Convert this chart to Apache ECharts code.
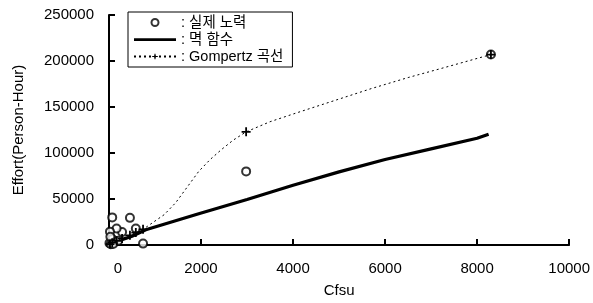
<!DOCTYPE html>
<html><head><meta charset="utf-8">
<script src="https://cdn.jsdelivr.net/npm/echarts@6/dist/echarts.min.js"></script>
<style>html,body{margin:0;padding:0;background:#fff}#c{width:593px;height:303px}</style>
</head><body><div id="c"></div>
<script>
// Actual effort (실제 노력)
const actualX = [8300, 2980, 740, 455, 583, 284, 165, 70, 21, 70, 10, 40, 120, 200, 30, 90];
const actualY = [207000, 80000, 1500, 29500, 18000, 14000, 18000, 30000, 14500, 6500, 2000, 800, 3000, 4500, 9000, 1200];
// Power function (멱 함수)
const powerX = [20, 200, 500, 800, 1950, 3000, 4000, 5000, 6000, 7000, 8000, 8250];
const powerY = [1000, 4500, 9500, 16500, 34000, 49500, 65000, 79500, 93000, 104500, 116000, 120500];
// Gompertz curve (Gompertz 곡선): marker points and curve points
const gompMarkX = [21, 70, 165, 284, 455, 583, 740, 2980, 8300];
const gompMarkY = [1000, 2500, 4500, 7000, 10500, 13500, 17000, 123000, 207000];
const gompCurveX = [912, 1200, 1450, 1700, 1950, 2200, 2450, 2700, 3500, 4100, 4900, 5700, 6500, 7300];
const gompCurveY = [23000, 33000, 46000, 63000, 80000, 93000, 104000, 114000, 134000, 144000, 157000, 170000, 182000, 193000];
const xTicks = [0, 2000, 4000, 6000, 8000, 10000];
const yTicks = [0, 50000, 100000, 150000, 200000, 250000];
const names = [': 실제 노력', ': 멱 함수', ': Gompertz 곡선'];

const FONT = "'Liberation Sans', 'Noto Sans CJK KR', Arial, sans-serif";
const FS = 15;
const plus = 'path://M4,0h2v4h4v2h-4v4h-2v-4h-4v-2h4z';
const barIcon = 'path://M0,0L0,0M42,7L42,7M0,2.2h42v2.8h-42z';

const gomp = gompMarkX.map((x, i) => ({ value: [x, gompMarkY[i]] }))
  .concat(gompCurveX.map((x, i) => ({ value: [x, gompCurveY[i]], symbol: 'none' })))
  .sort((a, b) => a.value[0] - b.value[0]);

const chart = echarts.init(document.getElementById('c'), null, { renderer: 'canvas' });
chart.setOption({
  animation: false,
  textStyle: { fontFamily: FONT, color: '#000' },
  grid: { left: 109, right: 16, top: 15, bottom: 56.5 },
  legend: {
    orient: 'vertical', left: 128, top: 12,
    borderColor: '#000', borderWidth: 1, borderRadius: 0,
    padding: [3, 9, 3, 5], itemGap: 2,
    itemWidth: 42, itemHeight: 7,
    textStyle: { fontFamily: FONT, fontSize: 14.5, color: '#000', lineHeight: 15 },
    data: [names[0], { name: names[1], icon: barIcon }, names[2]]
  },
  xAxis: {
    type: 'value', min: 0, max: 10000, interval: 2000,
    name: 'Cfsu', nameLocation: 'middle', nameGap: 38,
    nameTextStyle: { fontFamily: FONT, fontSize: FS, color: '#000' },
    axisLine: { lineStyle: { color: '#000', width: 2 } },
    axisTick: { inside: true, length: 6, lineStyle: { color: '#000', width: 2 } },
    axisLabel: { fontFamily: FONT, fontSize: FS, color: '#000', margin: 16,
      formatter: v => v === 0 ? '{z|0}' : String(v),
      rich: { z: { fontFamily: FONT, fontSize: FS, color: '#000', padding: [0, 0, 0, 18] } } },
    splitLine: { show: false }
  },
  yAxis: {
    type: 'value', min: 0, max: 250000, interval: 50000,
    name: 'Effort(Person-Hour)', nameLocation: 'middle', nameGap: 83,
    nameTextStyle: { fontFamily: FONT, fontSize: FS, color: '#000' },
    axisLine: { show: true, lineStyle: { color: '#000', width: 2 } },
    axisTick: { show: true, inside: true, length: 6, lineStyle: { color: '#000', width: 2 } },
    axisLabel: { fontFamily: FONT, fontSize: FS, color: '#000', margin: 15,
      formatter: v => String(v) },
    splitLine: { show: false }
  },
  series: [
    {
      name: names[0], type: 'scatter', symbol: 'emptyCircle', symbolSize: 8,
      itemStyle: { color: '#000', borderColor: '#000', borderWidth: 1.6 },
      data: actualX.map((x, i) => [x, actualY[i]]), z: 3
    },
    {
      name: names[1], type: 'line', symbol: 'none', showSymbol: false,
      smooth: false,
      lineStyle: { color: '#000', width: 3.2 },
      itemStyle: { color: '#000' },
      data: powerX.map((x, i) => [x, powerY[i]]), z: 2
    },
    {
      name: names[2], type: 'line', symbol: plus, symbolSize: 9,
      smooth: false,
      showAllSymbol: true,
      lineStyle: { color: '#000', width: 1, type: [2, 3] },
      itemStyle: { color: '#000', borderWidth: 0 },
      data: gomp, z: 4
    }
  ]
});
</script></body></html>
